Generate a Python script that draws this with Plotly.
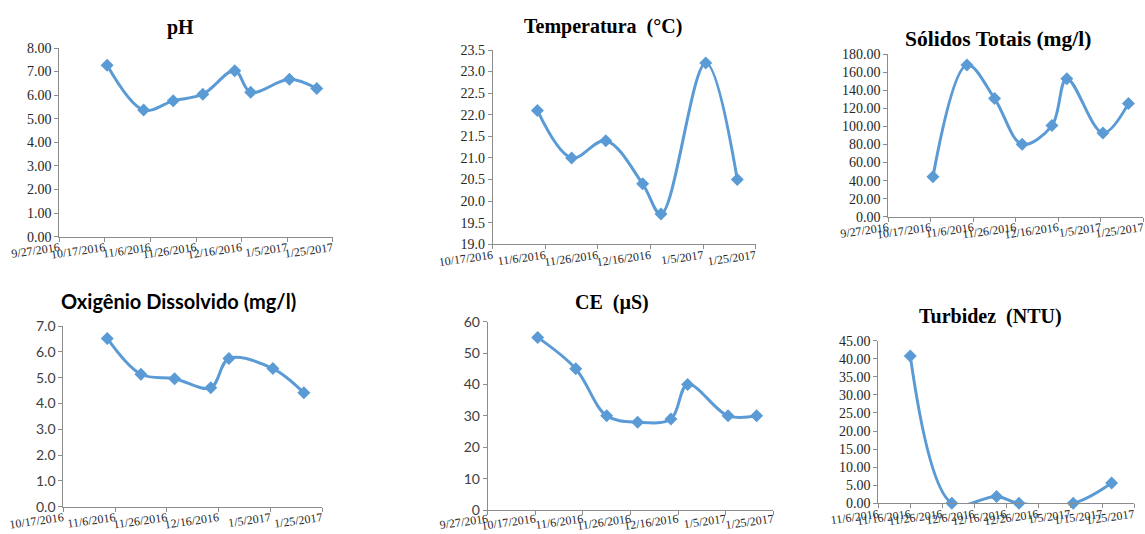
import plotly.graph_objects as go

W, H = 1145, 534

# ---------------- data ----------------
sample_dates = ["2016-10-18", "2016-11-03", "2016-11-16", "2016-11-29",
                "2016-12-13", "2016-12-20", "2017-01-06", "2017-01-18"]

ph_dates = sample_dates
ph_values = [7.27, 5.37, 5.76, 6.04, 7.04, 6.12, 6.67, 6.28]

temp_dates = sample_dates[1:]
temp_values = [22.1, 21.0, 21.4, 20.4, 19.7, 23.2, 20.5]

solidos_dates = sample_dates
solidos_values = [44.3, 168.2, 131.0, 80.2, 101.0, 153.0, 92.8, 125.6]

od_dates = sample_dates[1:]
od_values = [6.52, 5.13, 4.96, 4.61, 5.74, 5.35, 4.41]

ce_dates = sample_dates
ce_values = [55, 45, 30, 28, 29, 40, 30, 30]

turb_dates = sample_dates[2:]
turb_values = [40.8, 0.0, 1.9, 0.0, 0.0, 5.6]

ticks_a = ["2016-09-27", "2016-10-17", "2016-11-06", "2016-11-26",
           "2016-12-16", "2017-01-05", "2017-01-25"]
labels_a = ["9/27/2016", "10/17/2016", "11/6/2016", "11/26/2016",
            "12/16/2016", "1/5/2017", "1/25/2017"]
ticks_b = ticks_a[1:]
labels_b = labels_a[1:]
ticks_c = ["2016-11-06", "2016-11-16", "2016-11-26", "2016-12-06", "2016-12-16",
           "2016-12-26", "2017-01-05", "2017-01-15", "2017-01-25"]
labels_c = ["11/6/2016", "11/16/2016", "11/26/2016", "12/6/2016", "12/16/2016",
            "12/26/2016", "1/5/2017", "1/15/2017", "1/25/2017"]

NBSP = "\u00a0"
SERIF = "Liberation Serif, Times New Roman, serif"
SANS = "Lato, Liberation Sans, Arial, sans-serif"
BLUE = "#5B9BD5"
AXIS = "#8C8C8C"

panels = [
    dict(title="<b>pH</b>", tfont=SERIF, ts=20, x=ph_dates, y=ph_values, tv=ticks_a, tt=labels_a,
         yr=[0, 8], dt=1, fmt=".2f", yf=SERIF, box=(59.3, 332.7, 48.0, 236.7), tpos=(180, 27), so=-5),
    dict(title="<b>Temperatura" + NBSP + " (°C)</b>", tfont=SERIF, ts=20, x=temp_dates, y=temp_values, tv=ticks_b, tt=labels_b,
         yr=[19, 23.5], dt=0.5, fmt=".1f", yf=SERIF, box=(492.7, 755.7, 50.0, 244.3), tpos=(603, 26), so=-5),
    dict(title="<b>Sólidos Totais (mg/l)</b>", tfont=SERIF, ts=21.5, x=solidos_dates, y=solidos_values, tv=ticks_a, tt=labels_a,
         yr=[0, 180], dt=20, fmt=".2f", yf=SERIF, box=(888.3, 1143.3, 54.3, 216.7), tpos=(998, 39), so=-5),
    dict(title="<b>Oxigênio Dissolvido (mg/l)</b>", tfont=SANS, ts=20, x=od_dates, y=od_values, tv=ticks_b, tt=labels_b,
         yr=[0, 7], dt=1, fmt=".1f", yf=SANS, box=(63.3, 322.0, 326.0, 506.7), tpos=(178, 301), so=-5),
    dict(title="<b>CE" + NBSP + " (µS)</b>", tfont=SERIF, ts=20, x=ce_dates, y=ce_values, tv=ticks_a, tt=labels_a,
         yr=[0, 60], dt=10, fmt="d", yf=SANS, box=(487.7, 773.3, 321.7, 510.0), tpos=(612, 302), so=-7),
    dict(title="<b>Turbidez" + NBSP + " (NTU)</b>", tfont=SERIF, ts=20, x=turb_dates, y=turb_values, tv=ticks_c, tt=labels_c,
         yr=[0, 45], dt=5, fmt=".2f", yf=SERIF, box=(878.3, 1134.0, 340.7, 503.3), tpos=(990, 316), so=-5),
]

fig = go.Figure()
annotations = []
layout = {}
for i, p in enumerate(panels, start=1):
    sfx = "" if i == 1 else str(i)
    fig.add_trace(go.Scatter(
        x=p["x"], y=p["y"], mode="lines+markers",
        line=dict(color=BLUE, width=3, shape="spline", smoothing=1),
        marker=dict(symbol="diamond", size=10, color=BLUE),
        cliponaxis=False, showlegend=False,
        xaxis="x" + sfx, yaxis="y" + sfx,
    ))
    x0, x1, yt, yb = p["box"]
    layout["xaxis" + sfx] = dict(
        domain=[x0 / W, x1 / W], anchor="y" + sfx, type="date", automargin=False,
        range=[p["tv"][0], p["tv"][-1]], tickmode="array", tickvals=p["tv"], ticktext=p["tt"],
        tickangle=-8, ticks="outside", ticklen=4, tickcolor=AXIS,
        ticklabeloverflow="allow", ticklabelstandoff=p["so"],
        showline=True, linecolor=AXIS, linewidth=1, showgrid=False, zeroline=False,
        tickfont=dict(family=SERIF, size=12, color="#262626"),
    )
    layout["yaxis" + sfx] = dict(
        domain=[1 - yb / H, 1 - yt / H], anchor="x" + sfx, automargin=False,
        range=p["yr"], dtick=p["dt"], tick0=p["yr"][0], tickformat=p["fmt"],
        ticks="outside", ticklen=4, tickcolor=AXIS, ticklabeloverflow="allow",
        showline=True, linecolor=AXIS, linewidth=1, showgrid=False, zeroline=False,
        tickfont=dict(family=p["yf"], size=14, color="#262626" if p["yf"] == SERIF else "#404040"),
    )
    tx, ty = p["tpos"]
    annotations.append(dict(
        text=p["title"], x=tx / W, y=1 - ty / H, xref="paper", yref="paper",
        xanchor="center", yanchor="middle", showarrow=False,
        font=dict(family=p["tfont"], size=p["ts"], color="#000000"),
    ))

fig.update_layout(
    width=W, height=H, margin=dict(l=0, r=0, t=0, b=0),
    paper_bgcolor="white", plot_bgcolor="white",
    annotations=annotations, **layout,
)

fig.write_html(
    "out.html",
    config={"displayModeBar": False},
    post_script="document.body.style.margin='0';document.body.style.overflow='hidden';",
)
